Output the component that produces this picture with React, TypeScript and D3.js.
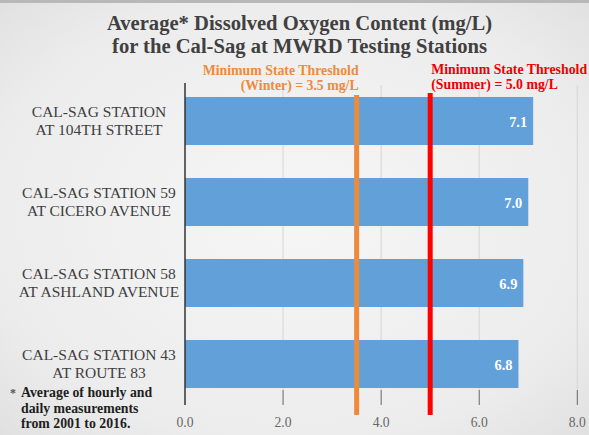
import React from "react";
import * as d3 from "d3";

const categories: string[] = ["104", "59", "58", "43"];
const labelLine1: string[] = ["CAL-SAG STATION", "CAL-SAG STATION 59", "CAL-SAG STATION 58", "CAL-SAG STATION 43"];
const labelLine2: string[] = ["AT 104TH STREET", "AT CICERO AVENUE", "AT ASHLAND AVENUE", "AT ROUTE 83"];
const values: number[] = [7.1, 7.0, 6.9, 6.8];
const ticks: number[] = [0, 2, 4, 6, 8];
const winterThreshold = 3.5;
const summerThreshold = 5.0;
const titleLines: string[] = ["Average* Dissolved Oxygen Content (mg/L)", "for the Cal-Sag at MWRD Testing Stations"];
const winterLabel: string[] = ["Minimum State Threshold", "(Winter) = 3.5 mg/L"];
const summerLabel: string[] = ["Minimum State Threshold", "(Summer) = 5.0 mg/L"];
const footnote: string[] = ["Average of hourly and", "daily measurements", "from 2001 to 2016."];

const W = 589;
const H = 435;
const serif = "Liberation Serif, DejaVu Serif, serif";

export default function App() {
  const x = d3.scaleLinear().domain([0, 8]).range([185, 577.3]);
  const y = d3.scaleBand<string>().domain(categories).range([80.5, 404.5]).paddingInner(0.407).paddingOuter(0.2035);
  const bw = y.bandwidth();

  return (
    <svg width={W} height={H} style={{ position: "absolute", left: 0, top: 0, fontFamily: serif }}>
      <defs>
        <radialGradient id="bg" cx="0.5" cy="0.5" r="0.75">
          <stop offset="0" stopColor="#f6f6f6" />
          <stop offset="0.7" stopColor="#ececec" />
          <stop offset="1" stopColor="#dedede" />
        </radialGradient>
      </defs>
      <rect x={0} y={0} width={W} height={H} fill="url(#bg)" />
      <rect x={0} y={0} width={W} height={3} fill="#b8b8b8" />

      {titleLines.map((t, i) => (
        <text key={t} x={299.5} y={30 + i * 23} textAnchor="middle" fontSize={20.6} fontWeight="bold" fill="#404040">{t}</text>
      ))}

      {ticks.filter((t) => t > 0).map((t) => (
        <line key={"g" + t} x1={x(t)} x2={x(t)} y1={85} y2={390} stroke="#d6d6d6" strokeWidth={1} />
      ))}
      {ticks.filter((t) => t > 0).map((t) => (
        <line key={"t" + t} x1={x(t)} x2={x(t)} y1={390} y2={405} stroke="#666" strokeWidth={1} />
      ))}

      {categories.map((c, i) => (
        <rect key={c} x={x(0)} y={y(c)!} width={x(values[i]) - x(0)} height={bw} fill="#62a0da" />
      ))}

      <line x1={x(0)} x2={x(0)} y1={83} y2={405} stroke="#333" strokeWidth={1.5} />

      <line x1={x(winterThreshold)} x2={x(winterThreshold)} y1={95} y2={415} stroke="#ee8a3c" strokeWidth={5} />
      <line x1={x(summerThreshold)} x2={x(summerThreshold)} y1={93} y2={415} stroke="#ff0000" strokeWidth={5} />

      {categories.map((c, i) => (
        <text key={"v" + c} x={x(values[i]) - 6} y={y(c)! + bw / 2 + 6} textAnchor="end" fontSize={14.4} fontWeight="bold" fill="#ffffff">{values[i].toFixed(1)}</text>
      ))}

      {categories.map((c, i) => (
        <text key={"c" + c} textAnchor="middle" fontSize={15.5} fill="#3e3e3e">
          <tspan x={99} y={y(c)! + bw / 2 - 4}>{labelLine1[i]}</tspan>
          <tspan x={99} y={y(c)! + bw / 2 + 14}>{labelLine2[i]}</tspan>
        </text>
      ))}

      {ticks.map((t) => (
        <text key={"l" + t} x={x(t)} y={427} textAnchor="middle" fontSize={13.6} fill="#666">{t.toFixed(1)}</text>
      ))}

      {winterLabel.map((t, i) => (
        <text key={"w" + i} x={x(winterThreshold) + 2} y={74.5 + i * 15.5} textAnchor="end" fontSize={13.8} fontWeight="bold" fill="#ee8a3c">{t}</text>
      ))}
      {summerLabel.map((t, i) => (
        <text key={"s" + i} x={x(summerThreshold) + 1} y={73.5 + i * 15.5} textAnchor="start" fontSize={13.8} fontWeight="bold" fill="#ee0000">{t}</text>
      ))}

      <text x={10} y={397} fontSize={12} fontWeight="bold" fill="#555">*</text>
      {footnote.map((t, i) => (
        <text key={"f" + i} x={21} y={397 + i * 15.5} fontSize={13.8} fontWeight="bold" fill="#1e1e1e">{t}</text>
      ))}
    </svg>
  );
}
